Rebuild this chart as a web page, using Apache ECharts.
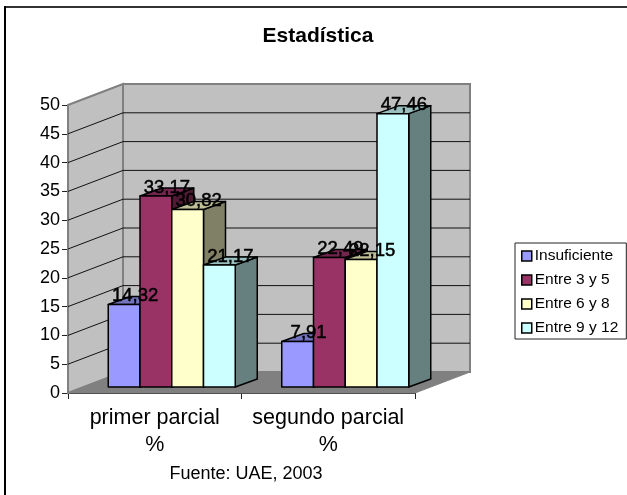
<!DOCTYPE html>
<html>
<head>
<meta charset="utf-8">
<title>Estadística</title>
<script src="https://cdn.jsdelivr.net/npm/echarts@6/dist/echarts.min.js"></script>
<style>
  html, body { margin: 0; padding: 0; background: #fff; }
  #main { width: 627px; height: 495px; }
</style>
</head>
<body>
<div id="main"></div>
<script>
var categories = ["primer parcial\n%", "segundo parcial\n%"];
var seriesNames = ["Insuficiente", "Entre 3 y 5", "Entre 6 y 8", "Entre 9 y 12"];
var insuficiente = [14.32, 7.91];
var entre3y5 = [33.17, 22.49];
var entre6y8 = [30.82, 22.15];
var entre9y12 = [21.17, 47.46];
var gridTicks = [5, 10, 15, 20, 25, 30, 35, 40, 45];
var seriesColors = ["#9999FF", "#993366", "#FFFFCC", "#CCFFFF"];

var font = '"Liberation Sans", Arial, sans-serif';
// fake 3d: how far the back wall and the bars sit from the axis plane, in px
var wallDx = 55, wallDy = 21;
var barShiftX = 17, barShiftY = 6;
var barDx = 22, barDy = 8;
var barRatio = 0.183;

function shade(hex, k) {
  var n = parseInt(hex.slice(1), 16);
  var r = Math.round((n >> 16) * k), g = Math.round(((n >> 8) & 255) * k), b = Math.round((n & 255) * k);
  return "rgb(" + r + "," + g + "," + b + ")";
}

function renderWalls(params, api) {
  var zero = api.coord([0, 0]);
  var top = api.coord([0, 50]);
  var band = api.size([1, 0])[0];
  var left = zero[0] - band / 2;
  var right = left + band * categories.length;
  var y0 = zero[1], y1 = top[1];
  var wallStyle = { fill: "#C0C0C0", stroke: "#808080", lineWidth: 2 };
  var children = [
    { type: "polygon", shape: { points: [[left, y1], [left + wallDx, y1 - wallDy], [left + wallDx, y0 - wallDy], [left, y0]] }, style: wallStyle },
    { type: "polygon", shape: { points: [[left + wallDx, y1 - wallDy], [right + wallDx, y1 - wallDy], [right + wallDx, y0 - wallDy], [left + wallDx, y0 - wallDy]] }, style: wallStyle },
    { type: "polygon", shape: { points: [[left, y0], [right, y0], [right + wallDx, y0 - wallDy], [left + wallDx, y0 - wallDy]] }, style: { fill: "#808080", stroke: "#808080", lineWidth: 1 } }
  ];
  gridTicks.forEach(function (t) {
    var y = api.coord([0, t])[1];
    children.push({
      type: "polyline",
      shape: { points: [[left, y], [left + wallDx, y - wallDy], [right + wallDx, y - wallDy]] },
      style: { fill: null, stroke: "#111", lineWidth: 1 }
    });
  });
  return { type: "group", children: children };
}

function barFrontX(api, catIdx, serIdx) {
  var band = api.size([1, 0])[0];
  var w = band * barRatio;
  var c = api.coord([catIdx, 0])[0] + barShiftX;
  return { x: c - 2 * w + serIdx * w, w: w };
}

function makeBarRender(serIdx) {
  return function (params, api) {
    var catIdx = api.value(0);
    var val = api.value(1);
    var pos = barFrontX(api, catIdx, serIdx);
    var x = pos.x, w = pos.w;
    var yTop = api.coord([catIdx, val])[1] - barShiftY;
    var yBot = api.coord([catIdx, 0])[1] - barShiftY;
    var col = seriesColors[serIdx];
    var edge = { stroke: "#000", lineWidth: 1.5, lineJoin: "round" };
    return {
      type: "group",
      children: [
        { type: "polygon", shape: { points: [[x + w, yTop], [x + w + barDx, yTop - barDy], [x + w + barDx, yBot - barDy], [x + w, yBot]] }, style: Object.assign({ fill: shade(col, 0.5) }, edge) },
        { type: "polygon", shape: { points: [[x, yTop], [x + barDx, yTop - barDy], [x + w + barDx, yTop - barDy], [x + w, yTop]] }, style: Object.assign({ fill: shade(col, 0.75) }, edge) },
        { type: "rect", shape: { x: x, y: yTop, width: w, height: yBot - yTop }, style: Object.assign({ fill: col }, edge) }
      ]
    };
  };
}

function renderLabel(params, api) {
  var catIdx = api.value(0);
  var val = api.value(1);
  var pos = barFrontX(api, catIdx, api.value(2));
  var yTop = api.coord([catIdx, val])[1] - barShiftY;
  return {
    type: "text",
    style: {
      x: pos.x + pos.w / 2 + barDx / 2,
      y: yTop - 8.5,
      text: val.toFixed(2).replace(".", ","),
      fill: "#000",
      stroke: "#000",
      lineWidth: 0.5,
      font: "18.5px " + font,
      align: "center",
      verticalAlign: "middle"
    }
  };
}

var valueSets = [insuficiente, entre3y5, entre6y8, entre9y12];
var series = [{
  type: "custom",
  silent: true,
  renderItem: renderWalls,
  data: [[0, 0]],
  z: 1
}];
var labelData = [];
valueSets.forEach(function (vals, s) {
  series.push({
    type: "custom",
    name: seriesNames[s],
    renderItem: makeBarRender(s),
    itemStyle: { color: seriesColors[s] },
    encode: { x: 0, y: 1 },
    data: vals.map(function (v, i) { labelData.push([i, v, s]); return [i, v]; }),
    z: 2
  });
});
series.push({
  type: "custom",
  silent: true,
  renderItem: renderLabel,
  encode: { x: 0, y: 1 },
  data: labelData,
  z: 3
});

var chart = echarts.init(document.getElementById("main"), null, { renderer: "canvas" });
chart.setOption({
  animation: false,
  backgroundColor: "#fff",
  textStyle: { fontFamily: font },
  title: [
    { text: "Estadística", left: 318, top: 26, padding: 0, textAlign: "center", textStyle: { fontFamily: font, fontSize: 21, fontWeight: "bold", color: "#000" } },
    { text: "Fuente: UAE, 2003", left: 246, top: 465, padding: 0, textAlign: "center", textStyle: { fontFamily: font, fontSize: 18, fontWeight: "normal", color: "#000" } }
  ],
  legend: {
    orient: "vertical",
    left: 515,
    top: 243,
    data: seriesNames,
    icon: "rect",
    itemWidth: 10,
    itemHeight: 10,
    itemGap: 8,
    padding: [5, 8, 3, 6],
    borderColor: "#222",
    borderWidth: 1,
    backgroundColor: "#fff",
    selectedMode: false,
    itemStyle: { borderColor: "#000", borderWidth: 1.5 },
    textStyle: { fontFamily: font, fontSize: 15.5, color: "#000", padding: [0, 0, 0, -2] }
  },
  grid: { left: 68, top: 105, width: 347, height: 288, containLabel: false },
  xAxis: {
    type: "category",
    data: categories,
    axisLine: { show: true, lineStyle: { color: "#222", width: 1 } },
    axisTick: { show: true, length: 6, lineStyle: { color: "#222" } },
    axisLabel: { fontFamily: font, fontSize: 21.5, color: "#000", margin: 12, lineHeight: 27, interval: 0 },
    splitLine: { show: false }
  },
  yAxis: {
    type: "value",
    min: 0,
    max: 50,
    interval: 5,
    axisLine: { show: true, lineStyle: { color: "#222", width: 1 } },
    axisTick: { show: true, length: 6, lineStyle: { color: "#222" } },
    axisLabel: { fontFamily: font, fontSize: 18, color: "#000", margin: 8, padding: [2, 0, 0, 0] },
    splitLine: { show: false }
  },
  graphic: [
    { type: "line", silent: true, z: -1, shape: { x1: 4, y1: 7, x2: 627, y2: 7 }, style: { stroke: "#333", lineWidth: 2 } },
    { type: "line", silent: true, z: -1, shape: { x1: 5, y1: 6, x2: 5, y2: 495 }, style: { stroke: "#000", lineWidth: 2 } }
  ],
  series: series
});
</script>
</body>
</html>
